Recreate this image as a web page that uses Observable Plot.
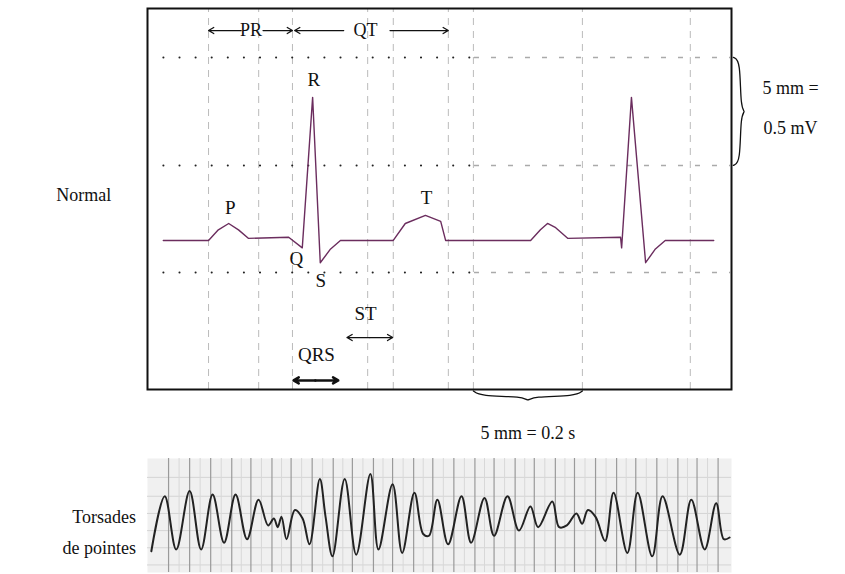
<!DOCTYPE html>
<html><head><meta charset="utf-8">
<script src="https://cdn.jsdelivr.net/npm/d3@7"></script>
<script src="https://cdn.jsdelivr.net/npm/@observablehq/plot@0.6"></script>
<style>body{margin:0;background:#fff}svg{display:block}</style>
</head><body><div id="chart"></div>
<script>
// normal ECG trace: time (s), voltage (mV)
const ecgT = [0.029,0.112,0.130,0.149,0.167,0.185,0.259,0.284,0.303,0.317,0.336,0.354,0.451,0.473,0.510,0.538,0.547,0.703,0.721,0.734,0.749,0.771,0.868,0.870,0.888,0.914,0.932,0.950,1.039];
const ecgV = [0,0,0.05,0.08,0.05,0.01,0.015,-0.035,0.675,-0.105,-0.04,0,0,0.08,0.118,0.09,0,0,0.05,0.08,0.06,0.01,0.015,-0.035,0.675,-0.105,-0.04,0,0];
const gridT = [0.112,0.204,0.266,0.404,0.451,0.552,0.598,0.798,0.996];
const gridV = [0.863,0.354,-0.151];
// wave labels
const waveLabels = ["R","P","T","Q","S","ST","QRS"];
const waveT = [0.305,0.152,0.512,0.273,0.318,0.40,0.31];
const waveV = [0.755,0.155,0.20,-0.085,-0.19,-0.345,-0.538];
// torsades strip (strip units, y down)
const torsX = [25,60,90,125,155,185,215,245,275,305,330,345,355,365,378,400,420,438,465,480,498,530,560,597,618,655,680,712,735,750,772,800,835,860,895,920,955,985,1015,1035,1072,1090,1110,1135,1150,1165,1185,1210,1232,1268,1295,1333,1360,1405,1435,1470,1500,1520,1535];
const torsY = [310,150,305,135,305,145,285,145,275,160,235,215,240,210,275,190,215,290,100,210,325,100,320,85,305,115,315,140,260,265,160,290,150,285,155,265,150,250,180,240,165,240,235,200,230,190,210,280,140,315,140,325,150,320,160,305,170,275,270];
const torsGridMajor = [70,125,180,235,285,340,390,445,500,550,605,655,710,760,815,870,920,975,1025,1080,1130,1185,1240,1290,1345,1400,1450,1505];
const torsGridH = [95,150,200,250,300,350];

const font = "Liberation Serif, DejaVu Serif, serif";
const ecg = ecgT.map((t,i) => ({t, v: ecgV[i]}));
const labels = waveLabels.map((s,i) => ({s, t: waveT[i], v: waveV[i]}));
const minor = [];
for (let i = 0; i < torsGridMajor.length - 1; i++) minor.push((torsGridMajor[i] + torsGridMajor[i+1]) / 2);

const rightBrace = [[1.075,0.863],[1.088,0.85],[1.088,0.62],[1.098,0.608],[1.088,0.596],[1.088,0.367],[1.075,0.354]];
const bottomBrace = [[0.598,-0.71],[0.61,-0.735],[0.69,-0.735],[0.698,-0.76],[0.706,-0.735],[0.786,-0.735],[0.798,-0.71]];
// arrows: [x from, x to, y, width]
const arrows = [
  [0.172,0.112,0.99,1.3],[0.212,0.266,0.99,1.3],[0.36,0.27,0.99,1.3],[0.445,0.552,0.99,1.3],
  [0.308,0.268,-0.66,2.5],[0.308,0.350,-0.66,2.5],
  [0.408,0.366,-0.458,1.3],[0.408,0.450,-0.458,1.3]
];

const main = Plot.plot({
  width: 845, height: 445,
  marginLeft: 147, marginRight: 114, marginTop: 8, marginBottom: 56,
  x: {domain: [0, 1.0716], axis: null},
  y: {domain: [-0.703, 1.094], axis: null},
  style: {fontFamily: font, fontSize: "18px", color: "#111"},
  marks: [
    Plot.ruleX(gridT, {y1: -0.703, y2: 1.094, stroke: "#bbb", strokeDasharray: "7,6"}),
    Plot.ruleY(gridV, {x1: 0.03, x2: 0.6, stroke: "#222", strokeWidth: 2, strokeDasharray: "0.1,16", strokeLinecap: "round"}),
    Plot.ruleY(gridV, {x1: 0.6, x2: 1.07, stroke: "#aaa", strokeWidth: 1.5, strokeDasharray: "5,12"}),
    Plot.line(ecg, {x: "t", y: "v", stroke: "#6b2d5e", strokeWidth: 1.4}),
    Plot.frame({stroke: "#111", strokeWidth: 2}),
    Plot.arrow(arrows, {x1: d => d[0], x2: d => d[1], y1: d => d[2], y2: d => d[2], strokeWidth: d => d[3], stroke: "#111", headLength: 9}),
    Plot.text(["PR","QT"], {x: [0.19,0.40], y: 0.99, text: d => d, fontSize: 18}),
    Plot.text(labels, {x: "t", y: "v", text: "s", fontSize: 19}),
    Plot.line(rightBrace, {x: d => d[0], y: d => d[1], stroke: "#111", strokeWidth: 1.3, curve: "basis"}),
    Plot.line(bottomBrace, {x: d => d[0], y: d => d[1], stroke: "#111", strokeWidth: 1.3, curve: "basis"}),
    Plot.text(["5 mm =","0.5 mV"], {x: 1.18, y: [0.717,0.528], text: d => d, fontSize: 18}),
    Plot.text(["5 mm = 0.2 s"], {x: 0.698, y: -0.91, text: d => d, fontSize: 18}),
    Plot.text(["Normal"], {x: -0.117, y: 0.212, text: d => d, fontSize: 18})
  ]
});

const strip = Plot.plot({
  width: 845, height: 129,
  marginLeft: 147, marginRight: 114, marginTop: 13, marginBottom: 2,
  x: {domain: [15, 1540], axis: null},
  y: {domain: [372, 40], axis: null},
  style: {fontFamily: font, fontSize: "18px", color: "#111"},
  marks: [
    Plot.frame({fill: "#f0f0f0"}),
    Plot.ruleY(torsGridH, {stroke: "#d4d4d4"}),
    Plot.ruleX(minor, {stroke: "#d8d8d8"}),
    Plot.ruleX(torsGridMajor, {stroke: "#9a9a9a", strokeWidth: 1.2}),
    Plot.line(torsX.map((x,i) => ({x, y: torsY[i]})), {x: "x", y: "y", stroke: "#222", strokeWidth: 2, curve: "catmull-rom"}),
    Plot.text(["Torsades","de pointes"], {x: -15, y: [212,302], text: d => d, textAnchor: "end", fontSize: 18})
  ]
});

document.getElementById("chart").append(main, strip);
</script>
</body></html>
